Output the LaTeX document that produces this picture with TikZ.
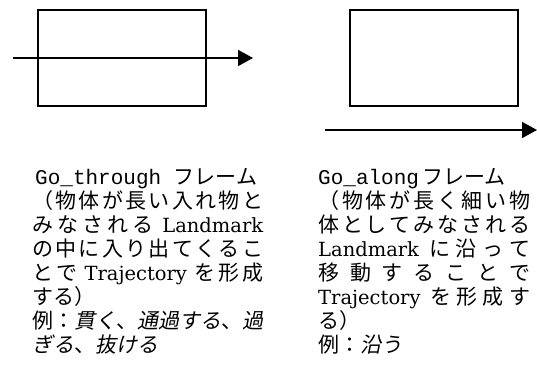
\documentclass[tikz,border=0pt]{standalone}
\usepackage{fontspec}
\usetikzlibrary{arrows.meta}
\newfontfamily\cjk{Noto Sans CJK JP}
\newfontfamily\cjkit[FakeSlant=0.2]{Noto Sans CJK JP}
\newfontfamily\lat{DejaVu Serif}
\newfontfamily\mono{Liberation Mono}
\def\spr#1{\sprA#1\relax}
\def\sprA#1{\ifx\relax#1\else#1\expandafter\sprB\fi}
\def\sprB#1{\ifx\relax#1\else\hfil#1\expandafter\sprB\fi}
\newcommand\LT[1]{{\lat\fontsize{19.5}{24}\selectfont #1}}
\newcommand\MT[1]{{\mono\fontsize{21}{24}\selectfont #1}}
\tikzset{
  landmark/.style={draw, line width=1.6pt, minimum width=168pt, minimum height=96pt, inner sep=0pt},
  traj/.style={line width=1.6pt, -{Triangle[length=15pt,width=16pt]}},
  txt/.style={anchor=base west, inner sep=0pt, font=\cjk\fontsize{21}{24}\selectfont}
}
\begin{document}
\begin{tikzpicture}[x=1pt,y=-1pt]
\useasboundingbox (0,0) rectangle (537,374);
% left figure
\node[landmark] (lmA) at (122,58) {};
\coordinate (tA1) at (13,58);
\coordinate (tA2) at (253,58);
\draw[traj] (tA1) -- (tA2);
% right figure
\node[landmark] (lmB) at (434,58) {};
\coordinate (tB1) at (325,130);
\coordinate (tB2) at (537,130);
\draw[traj] (tB1) -- (tB2);
% left text
\def\WA{231pt}
\node[txt] (a1) at (35,184) {\MT{Go\_through\ }フレーム};
\node[txt] (a2) at (32,208) {\hbox to \WA{\spr{（物体が長い入れ物と}}};
\node[txt] (a3) at (32,232) {\hbox to \WA{\spr{みなされる}\hfil\ \LT{Landmark}}};
\node[txt] (a4) at (32,256) {\hbox to \WA{\spr{の中に入り出てくるこ}}};
\node[txt] (a5) at (32,280) {\hbox to \WA{\spr{とで}\hfil\ \LT{Trajectory}\ \hfil\spr{を形成}}};
\node[txt] (a6) at (32,304) {する）};
\node[txt] (a7) at (32,328) {例：{\cjkit 貫く}、{\cjkit 通過する}、{\cjkit 過}};
\node[txt] (a8) at (32,352) {{\cjkit ぎる}、{\cjkit 抜ける}};
% right text
\def\WB{212pt}
\node[txt] (b1) at (318,184) {\MT{Go\_along}\kern3pt フレーム};
\node[txt] (b2) at (318,208) {\hbox to \WB{\spr{（物体が長く細い物}}};
\node[txt] (b3) at (318,232) {\hbox to \WB{\spr{体としてみなされる}}};
\node[txt] (b4) at (318,256) {\hbox to \WB{\LT{Landmark}\ \hfil\spr{に沿って}}};
\node[txt] (b5) at (318,280) {\hbox to \WB{\spr{移動することで}}};
\node[txt] (b6) at (318,304) {\hbox to \WB{\LT{Trajectory}\ \hfil\spr{を形成す}}};
\node[txt] (b7) at (318,328) {る）};
\node[txt] (b8) at (318,352) {例：{\cjkit 沿う}};
\end{tikzpicture}
\end{document}
